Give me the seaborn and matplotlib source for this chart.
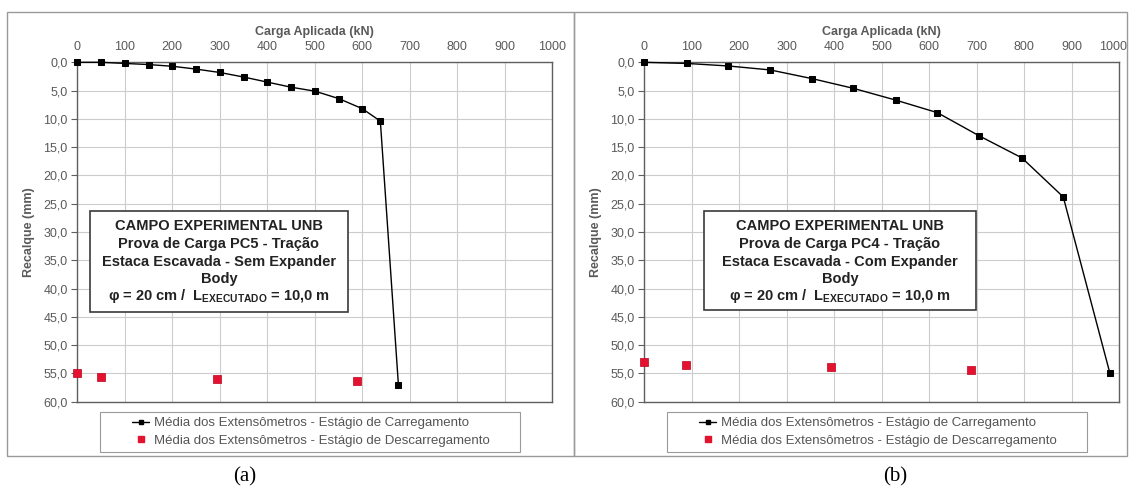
import matplotlib
matplotlib.use("Agg")
import matplotlib.pyplot as plt
import matplotlib.transforms as mtrans
import seaborn as sns
import pandas as pd
from matplotlib.patches import Rectangle
from matplotlib.ticker import FuncFormatter, MultipleLocator
from matplotlib.lines import Line2D

# ---- data ----
# Panel (a): PC5 - sem Expander Body
load_a_x = [0, 50, 100, 150, 200, 250, 300, 350, 400, 450, 500, 550, 600, 638, 676]
load_a_y = [0.0, 0.0, 0.2, 0.4, 0.7, 1.2, 1.8, 2.6, 3.5, 4.4, 5.1, 6.4, 8.2, 10.4, 57.0]
unload_a_x = [0, 50, 294, 589]
unload_a_y = [54.9, 55.6, 55.9, 56.4]

# Panel (b): PC4 - com Expander Body
load_b_x = [0, 89, 177, 265, 354, 440, 530, 617, 705, 795, 882, 980]
load_b_y = [0.0, 0.2, 0.65, 1.35, 2.9, 4.6, 6.7, 8.9, 13.0, 16.9, 23.8, 54.9]
unload_b_x = [0, 88, 392, 688]
unload_b_y = [52.9, 53.5, 53.9, 54.4]

x_ticks = [0, 100, 200, 300, 400, 500, 600, 700, 800, 900, 1000]
xlabel = "Carga Aplicada (kN)"
ylabel = "Recalque (mm)"
label_load = "Média dos Extensômetros - Estágio de Carregamento"
label_unload = "Média dos Extensômetros - Estágio de Descarregamento"
box_a = ["CAMPO EXPERIMENTAL UNB", "Prova de Carga PC5 - Tração",
         "Estaca Escavada - Sem Expander", "Body"]
box_b = ["CAMPO EXPERIMENTAL UNB", "Prova de Carga PC4 - Tração",
         "Estaca Escavada - Com Expander", "Body"]
phi_line = r"φ = 20 cm /  L$_{\mathbf{EXECUTADO}}$ = 10,0 m"
captions = ["(a)", "(b)"]

# ---- style ----
sns.set_style("white")
plt.rcParams['font.family'] = ['Liberation Sans', 'DejaVu Sans']
plt.rcParams['mathtext.fontset'] = 'custom'
plt.rcParams['mathtext.rm'] = 'Liberation Sans'
plt.rcParams['mathtext.bf'] = 'Liberation Sans:bold'

W, H = 1130, 488
fig = plt.figure(figsize=(W / 100, H / 100), dpi=100)

def fx(px):
    return px / W

def fy(py):
    return 1 - py / H

RED = '#E3122E'
TICK_C = '#5a5a5a'
SPINE_C = '#5f5f5f'

# outer panel frames
for (x0, x1) in [(7, 574), (574, 1127)]:
    fig.patches.append(Rectangle((fx(x0), fy(456)), fx(x1) - fx(x0), fy(12) - fy(456),
                                 transform=fig.transFigure, fill=False,
                                 edgecolor='#9a9a9a', lw=1.0, zorder=0))

panels = [
    dict(left=77.3, lx=load_a_x, ly=load_a_y, ux=unload_a_x, uy=unload_a_y,
         box=(90, 211, 348, 311.7), lines=box_a, cap_x=245, leg=(100, 412, 520, 452)),
    dict(left=644.3, lx=load_b_x, ly=load_b_y, ux=unload_b_x, uy=unload_b_y,
         box=(704, 211, 976, 310), lines=box_b, cap_x=895, leg=(667, 412, 1087, 452)),
]

top_px, bot_px, width_px = 62.3, 401.7, 475.0

for i, p in enumerate(panels):
    ax = fig.add_axes([fx(p['left']), fy(bot_px), width_px / W, (bot_px - top_px) / H])
    df_load = pd.DataFrame({'x': p['lx'], 'y': p['ly']})
    df_unload = pd.DataFrame({'x': p['ux'], 'y': p['uy']})
    sns.lineplot(data=df_load, x='x', y='y', ax=ax, color='black', lw=1.0,
                 marker='s', markersize=4.2, markeredgecolor='black', sort=False,
                 zorder=4, clip_on=False)
    sns.scatterplot(data=df_unload, x='x', y='y', ax=ax, color=RED, marker='s',
                    s=30, edgecolor='#c00020', linewidth=0.5, zorder=5, clip_on=False)
    ax.set_xlim(0, 1000)
    ax.set_ylim(60, 0)
    ax.set_xticks(x_ticks)
    ax.yaxis.set_major_locator(MultipleLocator(5))
    ax.yaxis.set_major_formatter(FuncFormatter(lambda v, pos: f"{v:.1f}".replace('.', ',')))
    ax.xaxis.tick_top()
    ax.xaxis.set_label_position('top')
    ax.tick_params(axis='x', top=True, bottom=False, labeltop=True, labelbottom=False,
                   length=0, pad=7, labelsize=9, labelcolor=TICK_C)
    ax.tick_params(axis='y', left=True, length=4, width=0.8, color=SPINE_C,
                   direction='out', pad=3, labelsize=9, labelcolor=TICK_C)
    ax.grid(True, color='#cccccc', lw=0.8)
    for s in ax.spines.values():
        s.set_visible(True)
        s.set_color(SPINE_C)
        s.set_linewidth(1.0)
    ax.set_xlabel(xlabel, fontsize=9, fontweight='bold', color=TICK_C, labelpad=4)
    ax.set_ylabel(ylabel, fontsize=9, fontweight='bold', color=TICK_C, labelpad=6)
    if ax.get_legend() is not None:
        ax.get_legend().remove()
    if i == 1:
        # keep the last top tick label inside the figure
        fig.canvas.draw()
        lbl = ax.get_xticklabels()[-1]
        lbl.set_transform(lbl.get_transform() +
                          mtrans.ScaledTranslation(-6 / 100, 0, fig.dpi_scale_trans))

    # annotation box
    bx0, by0, bx1, by1 = p['box']
    fig.patches.append(Rectangle((fx(bx0), fy(by1)), fx(bx1) - fx(bx0), fy(by0) - fy(by1),
                                 transform=fig.transFigure, facecolor='white',
                                 edgecolor='#3a3a3a', lw=1.2, zorder=3))
    cx = (bx0 + bx1) / 2
    for txt, yy in zip(p['lines'], [226, 244, 262, 279]):
        fig.text(fx(cx), fy(yy), txt, ha='center', va='center', fontsize=10.5,
                 fontweight='bold', color='#222222', zorder=6)
    fig.text(fx(cx), fy(296), phi_line, ha='center', va='center', fontsize=10.5,
             fontweight='bold', color='#222222', zorder=6)

    # legend frame + legend
    lx0, ly0, lx1, ly1 = p['leg']
    fig.patches.append(Rectangle((fx(lx0), fy(ly1)), fx(lx1) - fx(lx0), fy(ly0) - fy(ly1),
                                 transform=fig.transFigure, facecolor='white',
                                 edgecolor='#9a9a9a', lw=0.8, zorder=1))
    handles = [Line2D([], [], color='black', lw=1.0, marker='s', markersize=3.5),
               Line2D([], [], color=RED, lw=0, marker='s', markersize=5)]
    leg = fig.legend(handles, [label_load, label_unload], loc='center',
                     bbox_to_anchor=(fx((lx0 + lx1) / 2 + 1), fy((ly0 + ly1) / 2)),
                     fontsize=9.5, frameon=False,
                     handlelength=1.3, handletextpad=0.35, labelspacing=0.4,
                     borderpad=0.3, borderaxespad=0)
    for t in leg.get_texts():
        t.set_color('#555555')

    fig.text(fx(p['cap_x']), fy(477), captions[i], ha='center', va='center',
             fontsize=15, family='Liberation Serif', color='black')

fig.savefig("out.png", dpi=100)
